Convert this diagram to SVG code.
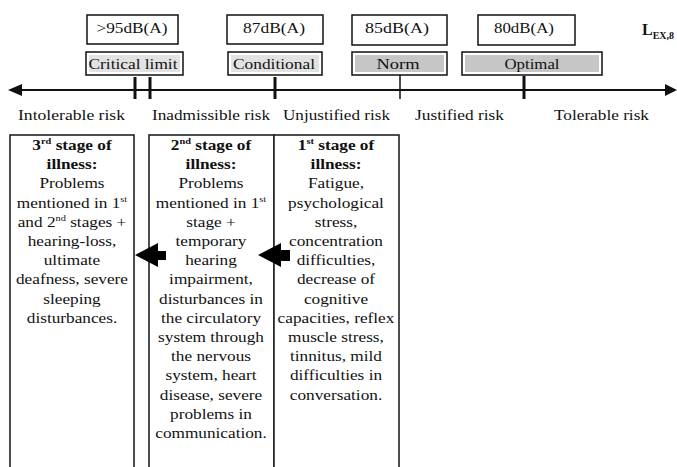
<svg xmlns="http://www.w3.org/2000/svg" width="677" height="467" viewBox="0 0 677 467" font-family="'Liberation Serif', 'Times New Roman', Times, serif">
<defs>
<style>
text{font-family:'Liberation Serif','Times New Roman',Times,serif;fill:#111;}
.val{font-size:14px;text-anchor:middle;}
.lbl{font-size:14px;text-anchor:middle;}
.risk{font-size:14px;}
.col{font-size:15px;text-anchor:middle;}
.b{font-weight:bold;}
.vbox{fill:#fff;stroke:#111;stroke-width:1.5;}
.btn{fill:#fff;stroke:#111;stroke-width:1.5;}
.btnin{fill:#e2e2e2;}
.btnin2{fill:#c6c6c6;}
.colbox{fill:#fff;stroke:#222;stroke-width:1.6;}
.tick{stroke:#111;stroke-width:3;}
.arrow{fill:#000;}
</style>
</defs>
<rect width="677" height="467" fill="#fff"/>

<g id="axis">
<line x1="14" y1="90" x2="668" y2="90" stroke="#111" stroke-width="2"/>
<polygon points="8,90 22,84 22,96" fill="#111"/>
<polygon points="677,90 665,84 665,96" fill="#111"/>
<line class="tick" x1="135" y1="77" x2="135" y2="99"/>
<line class="tick" x1="150" y1="77" x2="150" y2="99"/>
<line class="tick" x1="275" y1="77" x2="275" y2="99"/>
<line x1="400" y1="75" x2="400" y2="99" stroke="#111" stroke-width="1.5"/>
<line class="tick" x1="524" y1="76" x2="524" y2="99"/>
<text x="642" y="35" font-size="16" font-weight="bold">L<tspan font-size="10" dy="4">EX,8</tspan></text>
</g>

<g id="critical">
<rect class="vbox" x="87" y="15" width="91" height="29"/>
<text class="val" x="132" y="33" textLength="71" lengthAdjust="spacingAndGlyphs">&gt;95dB(A)</text>
<rect class="btn" x="86" y="52" width="97" height="23"/>
<rect class="btnin" x="89" y="55" width="91" height="17"/>
<text class="lbl" x="133" y="69" textLength="89" lengthAdjust="spacingAndGlyphs">Critical limit</text>
</g>

<g id="conditional">
<rect class="vbox" x="227" y="15" width="96" height="29"/>
<text class="val" x="274" y="33" textLength="62" lengthAdjust="spacingAndGlyphs">87dB(A)</text>
<rect class="btn" x="228" y="52" width="94" height="23"/>
<rect class="btnin" x="231" y="55" width="88" height="17"/>
<text class="lbl" x="274" y="69" textLength="82" lengthAdjust="spacingAndGlyphs">Conditional</text>
</g>

<g id="norm">
<rect class="vbox" x="352" y="15" width="95" height="30"/>
<text class="val" x="397" y="33" textLength="64" lengthAdjust="spacingAndGlyphs">85dB(A)</text>
<rect class="btn" x="352" y="52" width="95" height="23"/>
<rect class="btnin2" x="355" y="55" width="89" height="17"/>
<text class="lbl" x="398" y="69" textLength="43" lengthAdjust="spacingAndGlyphs">Norm</text>
</g>

<g id="optimal">
<rect class="vbox" x="478" y="15" width="97" height="30"/>
<text class="val" x="524" y="33" textLength="60" lengthAdjust="spacingAndGlyphs">80dB(A)</text>
<rect class="btn" x="462" y="52" width="140" height="23"/>
<rect class="btnin2" x="465" y="55" width="134" height="17"/>
<text class="lbl" x="532" y="69" textLength="55" lengthAdjust="spacingAndGlyphs">Optimal</text>
</g>

<g id="risk-labels">
<text class="risk" x="18" y="120" textLength="107" lengthAdjust="spacingAndGlyphs">Intolerable risk</text>
<text class="risk" x="152" y="120" textLength="118" lengthAdjust="spacingAndGlyphs">Inadmissible risk</text>
<text class="risk" x="283" y="120" textLength="107" lengthAdjust="spacingAndGlyphs">Unjustified risk</text>
<text class="risk" x="415" y="120" textLength="89" lengthAdjust="spacingAndGlyphs">Justified risk</text>
<text class="risk" x="554" y="120" textLength="95" lengthAdjust="spacingAndGlyphs">Tolerable risk</text>
</g>

<g id="stage3">
<rect class="colbox" x="10" y="135" width="124" height="340"/>
<g transform="translate(72,0) scale(1.15,1)">
<text class="col b" x="0" y="150">3<tspan font-size="9" dy="-6">rd</tspan><tspan dy="6"> stage of</tspan></text>
<text class="col b" x="0" y="169.2">illness:</text>
<text class="col" x="0" y="188.4">Problems</text>
<text class="col" x="0" y="207.6">mentioned in 1<tspan font-size="9" dy="-6">st</tspan></text>
<text class="col" x="0" y="226.8">and 2<tspan font-size="9" dy="-6">nd</tspan><tspan dy="6"> stages +</tspan></text>
<text class="col" x="0" y="246">hearing-loss,</text>
<text class="col" x="0" y="265.2">ultimate</text>
<text class="col" x="0" y="284.4">deafness, severe</text>
<text class="col" x="0" y="303.6">sleeping</text>
<text class="col" x="0" y="322.8">disturbances.</text>
</g>
</g>

<g id="stage2">
<rect class="colbox" x="149" y="135" width="125" height="340"/>
<g transform="translate(211,0) scale(1.15,1)">
<text class="col b" x="0" y="150">2<tspan font-size="9" dy="-6">nd</tspan><tspan dy="6"> stage of</tspan></text>
<text class="col b" x="0" y="169.2">illness:</text>
<text class="col" x="0" y="188.4">Problems</text>
<text class="col" x="0" y="207.6">mentioned in 1<tspan font-size="9" dy="-6">st</tspan></text>
<text class="col" x="0" y="226.8">stage +</text>
<text class="col" x="0" y="246">temporary</text>
<text class="col" x="0" y="265.2">hearing</text>
<text class="col" x="0" y="284.4">impairment,</text>
<text class="col" x="0" y="303.6">disturbances in</text>
<text class="col" x="0" y="322.8">the circulatory</text>
<text class="col" x="0" y="342">system through</text>
<text class="col" x="0" y="361.2">the nervous</text>
<text class="col" x="0" y="380.4">system, heart</text>
<text class="col" x="0" y="399.6">disease, severe</text>
<text class="col" x="0" y="418.8">problems in</text>
<text class="col" x="0" y="438">communication.</text>
</g>
</g>

<g id="stage1">
<rect class="colbox" x="274" y="135" width="125" height="340"/>
<g transform="translate(336,0) scale(1.15,1)">
<text class="col b" x="0" y="150">1<tspan font-size="9" dy="-6">st</tspan><tspan dy="6"> stage of</tspan></text>
<text class="col b" x="0" y="169.2">illness:</text>
<text class="col" x="0" y="188.4">Fatigue,</text>
<text class="col" x="0" y="207.6">psychological</text>
<text class="col" x="0" y="226.8">stress,</text>
<text class="col" x="0" y="246">concentration</text>
<text class="col" x="0" y="265.2">difficulties,</text>
<text class="col" x="0" y="284.4">decrease of</text>
<text class="col" x="0" y="303.6">cognitive</text>
<text class="col" x="0" y="322.8">capacities, reflex</text>
<text class="col" x="0" y="342">muscle stress,</text>
<text class="col" x="0" y="361.2">tinnitus, mild</text>
<text class="col" x="0" y="380.4">difficulties in</text>
<text class="col" x="0" y="399.6">conversation.</text>
</g>
</g>

<g id="connectors">
<polygon class="arrow" points="135,255 158,243 158,251 166,251 166,260 158,260 158,267"/>
<polygon class="arrow" points="258,255 281,243 281,250 290,250 290,261 281,261 281,267"/>
</g>
</svg>
